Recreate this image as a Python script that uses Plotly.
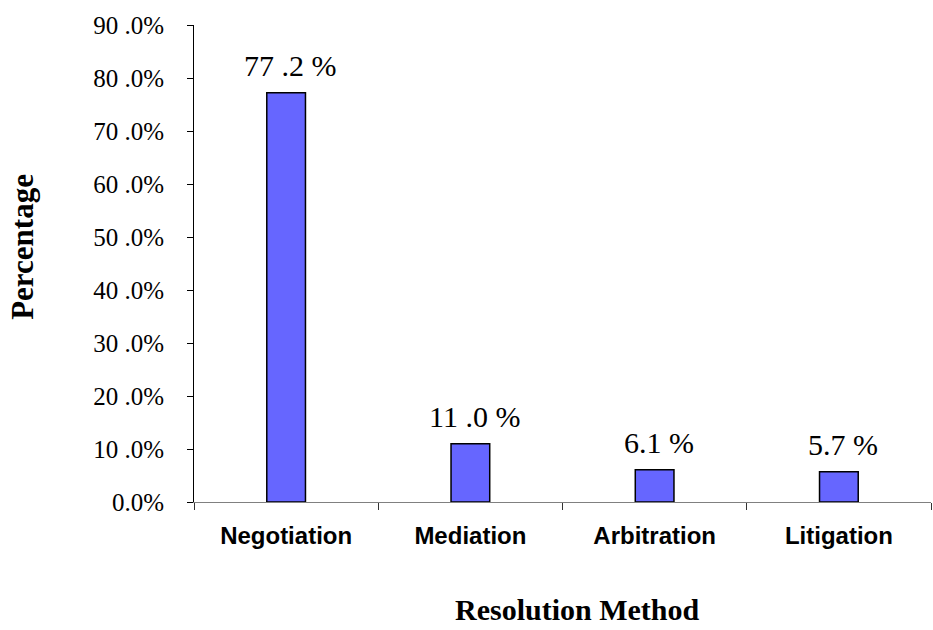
import plotly.graph_objects as go

# Share of disputes by resolution method
methods = ["Negotiation", "Mediation", "Arbitration", "Litigation"]
shares = [77.2, 11.0, 6.1, 5.7]

y_ticks = [0, 10, 20, 30, 40, 50, 60, 70, 80, 90]


def spaced_pct(v, tail=" %"):
    whole, dec = f"{v:.1f}".split(".")
    gap = " " if len(whole) > 1 else ""
    return f"{whole}{gap}.{dec}{tail}"


y_tick_text = [spaced_pct(v, "%") for v in y_ticks]

SERIF = "Liberation Serif, Times New Roman, serif"
SANS = "Liberation Sans, Arial, sans-serif"

fig = go.Figure()
fig.add_trace(go.Bar(
    x=methods,
    y=shares,
    marker=dict(color="#6666FF", line=dict(color="#000000", width=1.5)),
    hoverinfo="x+y",
))

for m, v in zip(methods, shares):
    fig.add_annotation(
        x=m, y=v, xref="x", yref="y",
        text=spaced_pct(v),
        showarrow=False,
        yanchor="bottom",
        yshift=9,
        xshift=4,
        font=dict(family=SERIF, size=30, color="#000000"),
    )

# Axis titles
fig.add_annotation(
    text="<b>Percentage</b>", xref="paper", yref="paper",
    x=-0.232, y=0.535, xanchor="center", yanchor="middle",
    textangle=-90, showarrow=False,
    font=dict(family=SERIF, size=31, color="#000000"),
)
fig.add_annotation(
    text="<b>Resolution Method</b>", xref="paper", yref="paper",
    x=0.52, y=-0.225, xanchor="center", yanchor="middle",
    showarrow=False,
    font=dict(family=SERIF, size=30, color="#000000"),
)

fig.update_layout(
    width=933, height=630,
    margin=dict(l=194, r=2, t=25, b=128),
    paper_bgcolor="#FFFFFF",
    plot_bgcolor="#FFFFFF",
    bargap=0.79,
    showlegend=False,
)

fig.update_xaxes(
    type="category",
    tickson="boundaries",
    ticks="outside", ticklen=7, tickcolor="#333333", tickwidth=1,
    showline=True, linecolor="#808080", linewidth=1,
    showgrid=False, zeroline=False,
    tickfont=dict(family=SANS, size=24, color="#000000", weight="bold"),
    ticklabelstandoff=12,
)
fig.update_yaxes(
    range=[0, 90],
    tickvals=y_ticks, ticktext=y_tick_text,
    ticks="outside", ticklen=6, tickcolor="#000000", tickwidth=1,
    showline=True, linecolor="#000000", linewidth=1,
    showgrid=False, zeroline=False,
    tickfont=dict(family=SERIF, size=25, color="#000000"),
    ticklabelstandoff=18,
)

fig.write_html("out.html")
